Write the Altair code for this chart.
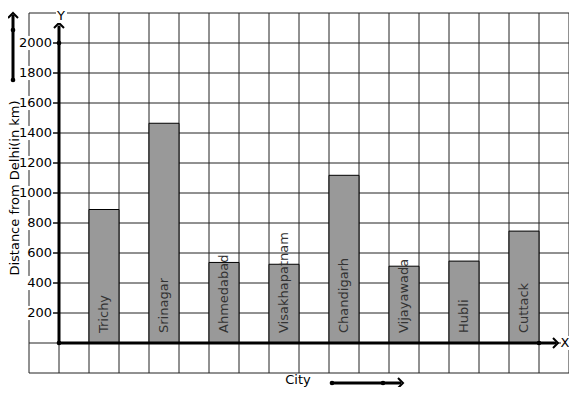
import altair as alt
import pandas as pd

cities = ["Trichy", "Srinagar", "Ahmedabad", "Visakhapatnam", "Chandigarh",
          "Vijayawada", "Hubli", "Cuttack"]
distances = [890, 1465, 537, 525, 1118, 512, 546, 746]
y_ticks = [200, 400, 600, 800, 1000, 1200, 1400, 1600, 1800, 2000]
y_title = "Distance from Delhi(in km)"
x_title = "City"

FONT = "DejaVu Sans"
W, H = 561, 379


def u(px):
    return (px - 29) / 30.0


def v(py):
    return (343 - py) / 0.15


xs = alt.Scale(domain=[u(8), u(8 + W)], range=[0, W], nice=False, zero=False, padding=0)
ys = alt.Scale(domain=[v(8 + H), v(8)], range=[H, 0], nice=False, zero=False, padding=0)


def X(f="x"):
    return alt.X(f + ":Q", scale=xs, axis=None)


def Y(f="y"):
    return alt.Y(f + ":Q", scale=ys, axis=None)


# grid
grid_v = pd.DataFrame({"x": list(range(0, 19)), "y": [-200] * 19, "y2": [2200] * 19})
grid_h = pd.DataFrame({"y": list(range(-200, 2201, 200)), "x": [0] * 13, "x2": [18] * 13})
gv = alt.Chart(grid_v).mark_rule(color="#222", strokeWidth=1).encode(x=X(), y=Y(), y2="y2:Q")
gh = alt.Chart(grid_h).mark_rule(color="#222", strokeWidth=1).encode(y=Y(), x=X(), x2="x2:Q")

# bars
bars_df = pd.DataFrame({
    "city": cities,
    "x": [2 + 2 * i for i in range(len(cities))],
    "x2": [3 + 2 * i for i in range(len(cities))],
    "y": [0] * len(cities),
    "y2": distances,
    "xc": [2.5 + 2 * i for i in range(len(cities))],
    "ly": [v(333)] * len(cities),
})
bars = alt.Chart(bars_df).mark_rect(fill="#999999", stroke="black", strokeWidth=1).encode(
    x=X(), x2="x2:Q", y=Y(), y2="y2:Q")
bar_text = alt.Chart(bars_df).mark_text(angle=270, align="left", baseline="middle",
                                        font=FONT, fontSize=13, color="#333").encode(
    x=X("xc"), y=Y("ly"), text="city:N")

# tick labels with white background
tk = pd.DataFrame({
    "y": y_ticks,
    "lbl": [str(t) for t in y_ticks],
    "bx": [u(21)] * len(y_ticks),
    "bx2": [u(53)] * len(y_ticks),
    "by": [t - 47 for t in y_ticks],
    "by2": [t + 47 for t in y_ticks],
    "tx": [u(53)] * len(y_ticks),
    "tx2": [u(59)] * len(y_ticks),
})
tk_bg = alt.Chart(tk).mark_rect(fill="white").encode(x=X("bx"), x2="bx2:Q", y=Y("by"), y2="by2:Q")
tk_txt = alt.Chart(tk).mark_text(align="right", baseline="middle", font=FONT, fontSize=13,
                                 color="black", dx=-1).encode(x=X("tx"), y=Y(), text="lbl:N")
tk_mark = alt.Chart(tk).mark_rule(color="black", strokeWidth=1).encode(x=X("tx"), x2="tx2:Q", y=Y())

# axes lines
axis_lines = pd.DataFrame({
    "x": [1, 1, u(13), u(332)],
    "x2": [1, u(556), u(13), u(401)],
    "y": [0, 0, v(80), v(383)],
    "y2": [v(26), 0, v(15), v(383)],
})
ax = alt.Chart(axis_lines).mark_rule(color="black", strokeWidth=3).encode(
    x=X(), x2="x2:Q", y=Y(), y2="y2:Q")

dots = pd.DataFrame({
    "x": [1, 1, 17, u(13), u(13), u(332), u(383)],
    "y": [0, 2000, 0, v(30), v(80), v(383), v(383)],
})
dt = alt.Chart(dots).mark_circle(color="black", opacity=1, size=22).encode(x=X(), y=Y())

up_arrows = pd.DataFrame({"x": [1, u(13)], "y": [v(23), v(13)]})
right_arrows = pd.DataFrame({"x": [u(558), u(403)], "y": [0, v(383)]})
ua = alt.Chart(up_arrows).mark_point(shape="M-1,1L0,0L1,1", size=100, filled=False,
                                     stroke="black", strokeWidth=2, opacity=1).encode(x=X(), y=Y())
ra = alt.Chart(right_arrows).mark_point(shape="M-1,-1L0,0L-1,1", size=100, filled=False,
                                        stroke="black", strokeWidth=2, opacity=1).encode(x=X(), y=Y())

# axis letters
letters = pd.DataFrame({
    "t": ["Y", "X"],
    "x": [u(61), u(565)],
    "y": [v(16), v(343)],
    "bx": [u(56), u(561)],
    "bx2": [u(67), u(572)],
    "by": [v(23), v(350)],
    "by2": [v(8), v(336)],
})
let_bg = alt.Chart(letters).mark_rect(fill="white").encode(x=X("bx"), x2="bx2:Q", y=Y("by"), y2="by2:Q")
let_txt = alt.Chart(letters).mark_text(align="center", baseline="middle", font=FONT, fontSize=13,
                                       color="black").encode(x=X(), y=Y(), text="t:N")

titles = pd.DataFrame({"t": [y_title], "x": [u(14.5)], "y": [v(188)]})
yt = alt.Chart(titles).mark_text(angle=270, align="center", baseline="middle", font=FONT,
                                 fontSize=13, color="black").encode(x=X(), y=Y(), text="t:N")
xtitle = pd.DataFrame({"t": [x_title], "x": [u(298)], "y": [v(380)]})
xt = alt.Chart(xtitle).mark_text(align="center", baseline="middle", font=FONT,
                                 fontSize=13, color="black").encode(x=X(), y=Y(), text="t:N")

chart = alt.layer(
    gv, gh, bars, bar_text, tk_bg, tk_txt, tk_mark, ax, dt, ua, ra, let_bg, let_txt, yt, xt
).properties(
    width=W, height=H,
    autosize=alt.AutoSizeParams(type="none"),
    padding=0,
).configure_view(stroke=None)

chart.save("out.html", embed_options={"renderer": "svg", "actions": False})
